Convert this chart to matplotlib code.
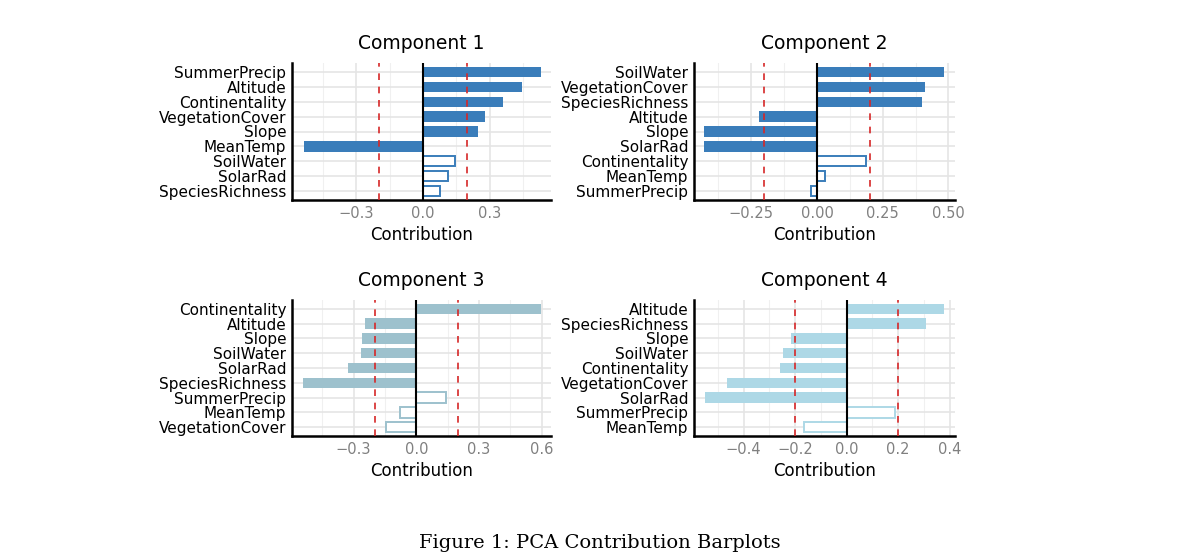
import matplotlib
matplotlib.use("Agg")
import matplotlib.pyplot as plt

titles = ["Component 1", "Component 2", "Component 3", "Component 4"]
labels1 = ["SummerPrecip", "Altitude", "Continentality", "VegetationCover", "Slope", "MeanTemp", "SoilWater", "SolarRad", "SpeciesRichness"]
values1 = [0.53, 0.445, 0.36, 0.28, 0.25, -0.535, 0.145, 0.113, 0.077]
labels2 = ["SoilWater", "VegetationCover", "SpeciesRichness", "Altitude", "Slope", "SolarRad", "Continentality", "MeanTemp", "SummerPrecip"]
values2 = [0.485, 0.41, 0.40, -0.22, -0.43, -0.43, 0.185, 0.03, -0.023]
labels3 = ["Continentality", "Altitude", "Slope", "SoilWater", "SolarRad", "SpeciesRichness", "SummerPrecip", "MeanTemp", "VegetationCover"]
values3 = [0.597, -0.245, -0.26, -0.267, -0.326, -0.54, 0.142, -0.08, -0.147]
labels4 = ["Altitude", "SpeciesRichness", "Slope", "SoilWater", "Continentality", "VegetationCover", "SolarRad", "SummerPrecip", "MeanTemp"]
values4 = [0.378, 0.308, -0.218, -0.248, -0.26, -0.465, -0.549, 0.186, -0.164]
colors = ["#3A7DBA", "#3A7DBA", "#9DC1CD", "#ADD8E6"]
xticks = [[-0.3, 0.0, 0.3], [-0.25, 0.0, 0.25, 0.5], [-0.3, 0.0, 0.3, 0.6], [-0.4, -0.2, 0.0, 0.2, 0.4]]
xticklabels = [["\u22120.3", "0.0", "0.3"], ["\u22120.25", "0.00", "0.25", "0.50"],
               ["\u22120.3", "0.0", "0.3", "0.6"], ["\u22120.4", "\u22120.2", "0.0", "0.2", "0.4"]]
xlims = [(-0.59, 0.577), (-0.468, 0.525), (-0.595, 0.645), (-0.593, 0.421)]
threshold = 0.2

fig = plt.figure(figsize=(12, 5.6), dpi=100)
W, H = 1200, 560
boxes = [(292, 63, 551, 200), (694, 63, 955, 200), (292, 300, 551, 436), (694, 300, 955, 436)]
data = [(labels1, values1), (labels2, values2), (labels3, values3), (labels4, values4)]

for i, ((labs, vals), (x0, y0, x1, y1)) in enumerate(zip(data, boxes)):
    ax = fig.add_axes([x0 / W, 1 - y1 / H, (x1 - x0) / W, (y1 - y0) / H])
    n = len(labs)
    ys = list(range(n))[::-1]
    for y, v in zip(ys, vals):
        if abs(v) >= threshold:
            ax.barh(y, v, height=0.7, color=colors[i], zorder=2)
        else:
            ax.barh(y, v, height=0.7, facecolor="white", edgecolor=colors[i], linewidth=1.4, zorder=2)
    ax.axvline(0, color="black", lw=1.5, zorder=3)
    for t in (-threshold, threshold):
        ax.axvline(t, color="#D62728", ls=(0, (4, 4)), lw=1.2, zorder=4)
    ax.set_yticks(ys)
    ax.set_yticklabels(labs, fontsize=11, color="black")
    ax.set_xticks(xticks[i])
    ax.set_xticklabels(xticklabels[i], fontsize=10.5, color="#808080")
    step = xticks[i][1] - xticks[i][0]
    minor = [xticks[i][0] - step / 2] + [t + step / 2 for t in xticks[i]]
    ax.set_xticks(minor, minor=True)
    ax.set_xlim(*xlims[i])
    ax.set_ylim(-0.6, n - 0.4)
    ax.grid(True, which="major", color="#E5E5E5", lw=1.2, zorder=0)
    ax.grid(True, which="minor", axis="x", color="#F0F0F0", lw=0.8, zorder=0)
    ax.set_axisbelow(True)
    ax.tick_params(length=0, which="both", pad=4)
    for s in ("top", "right"):
        ax.spines[s].set_visible(False)
    for s in ("left", "bottom"):
        ax.spines[s].set_linewidth(1.8)
        ax.spines[s].set_color("black")
    ax.set_xlabel("Contribution", fontsize=12, labelpad=4)
    ax.set_title(titles[i], fontsize=13.5, pad=10)

fig.text(0.5, 1 - 543 / H, "Figure 1: PCA Contribution Barplots", ha="center", va="center",
         fontsize=14, family="DejaVu Serif")
fig.savefig("out.png", dpi=100, facecolor="white")
